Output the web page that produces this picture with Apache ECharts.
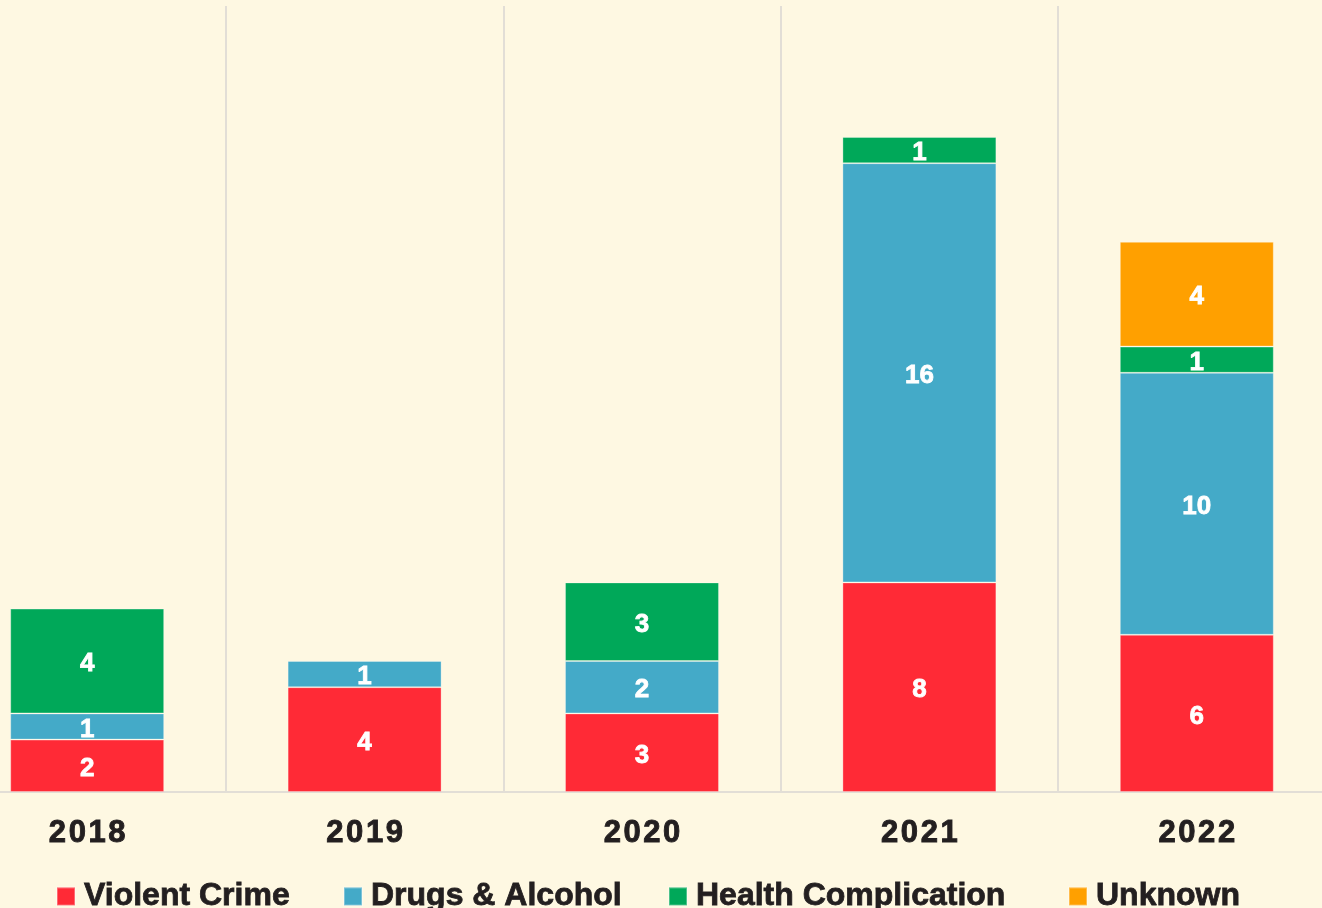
<!DOCTYPE html>
<html>
<head>
<meta charset="utf-8">
<script src="https://cdn.jsdelivr.net/npm/echarts@6/dist/echarts.min.js"></script>
<style>
html,body{margin:0;padding:0;background:#FEF8E2;}
#chart{width:1322px;height:908px;}
</style>
</head>
<body>
<div id="chart"></div>
<script>
const categories = ['2018', '2019', '2020', '2021', '2022'];
const seriesNames = ['Violent Crime', 'Drugs & Alcohol', 'Health Complication', 'Unknown'];
const violentCrime = [2, 4, 3, 8, 6];
const drugsAlcohol = [1, 1, 2, 16, 10];
const healthComplication = [4, 0, 3, 1, 1];
const unknown = [0, 0, 0, 0, 4];
const colors = ['#FF2A36', '#44AAC8', '#00A859', '#FFA000'];

const values = [violentCrime, drugsAlcohol, healthComplication, unknown];
const FONT = '"Liberation Sans", Arial, sans-serif';
const TEXT = '#231F20';
const legendLeft = [51, 338, 663, 1063];

const chart = echarts.init(document.getElementById('chart'), null, {renderer: 'canvas'});
chart.setOption({
  backgroundColor: '#FEF8E2',
  animation: false,
  color: colors,
  grid: {left: -51.5, right: -13.5, top: 6, bottom: 116, containLabel: false, outerBoundsMode: 'none'},
  legend: seriesNames.map((name, i) => ({
    left: legendLeft[i],
    top: 875,
    itemWidth: 18,
    itemHeight: 18,
    icon: 'rect',
    textStyle: {fontFamily: FONT, fontWeight: 'bold', fontSize: 32, color: TEXT,
      textBorderColor: TEXT, textBorderWidth: 0.8, padding: [0, 0, 0, 4]},
    data: [name]
  })),
  xAxis: {
    type: 'category',
    data: categories,
    axisLine: {show: true, lineStyle: {color: '#E2DED6', width: 2}},
    axisTick: {show: false},
    splitLine: {show: true, lineStyle: {color: '#E2DED6', width: 2}},
    axisLabel: {fontFamily: FONT, fontWeight: 'bold', fontSize: 31, color: TEXT, margin: 26,
      textBorderColor: TEXT, textBorderWidth: 0.9,
      formatter: v => v.split('').join('\u200A')}
  },
  yAxis: {
    type: 'value',
    min: 0, max: 30, interval: 5,
    show: false,
    splitLine: {show: false}
  },
  series: seriesNames.map((name, i) => ({
    name: name,
    type: 'bar',
    stack: 'total',
    barWidth: '55.5%',
    data: values[i].map(v => v === 0 ? null : v),
    itemStyle: {color: colors[i], borderColor: 'rgba(255,255,255,0.3)', borderWidth: 1},
    label: {
      show: true,
      position: 'inside',
      offset: [0, 3],
      color: '#FFFFFF',
      fontFamily: FONT,
      fontWeight: 'bold',
      fontSize: 26,
      textBorderColor: '#FFFFFF',
      textBorderWidth: 0.8,
      formatter: p => (p.value ? String(p.value) : '')
    }
  }))
});
</script>
</body>
</html>
